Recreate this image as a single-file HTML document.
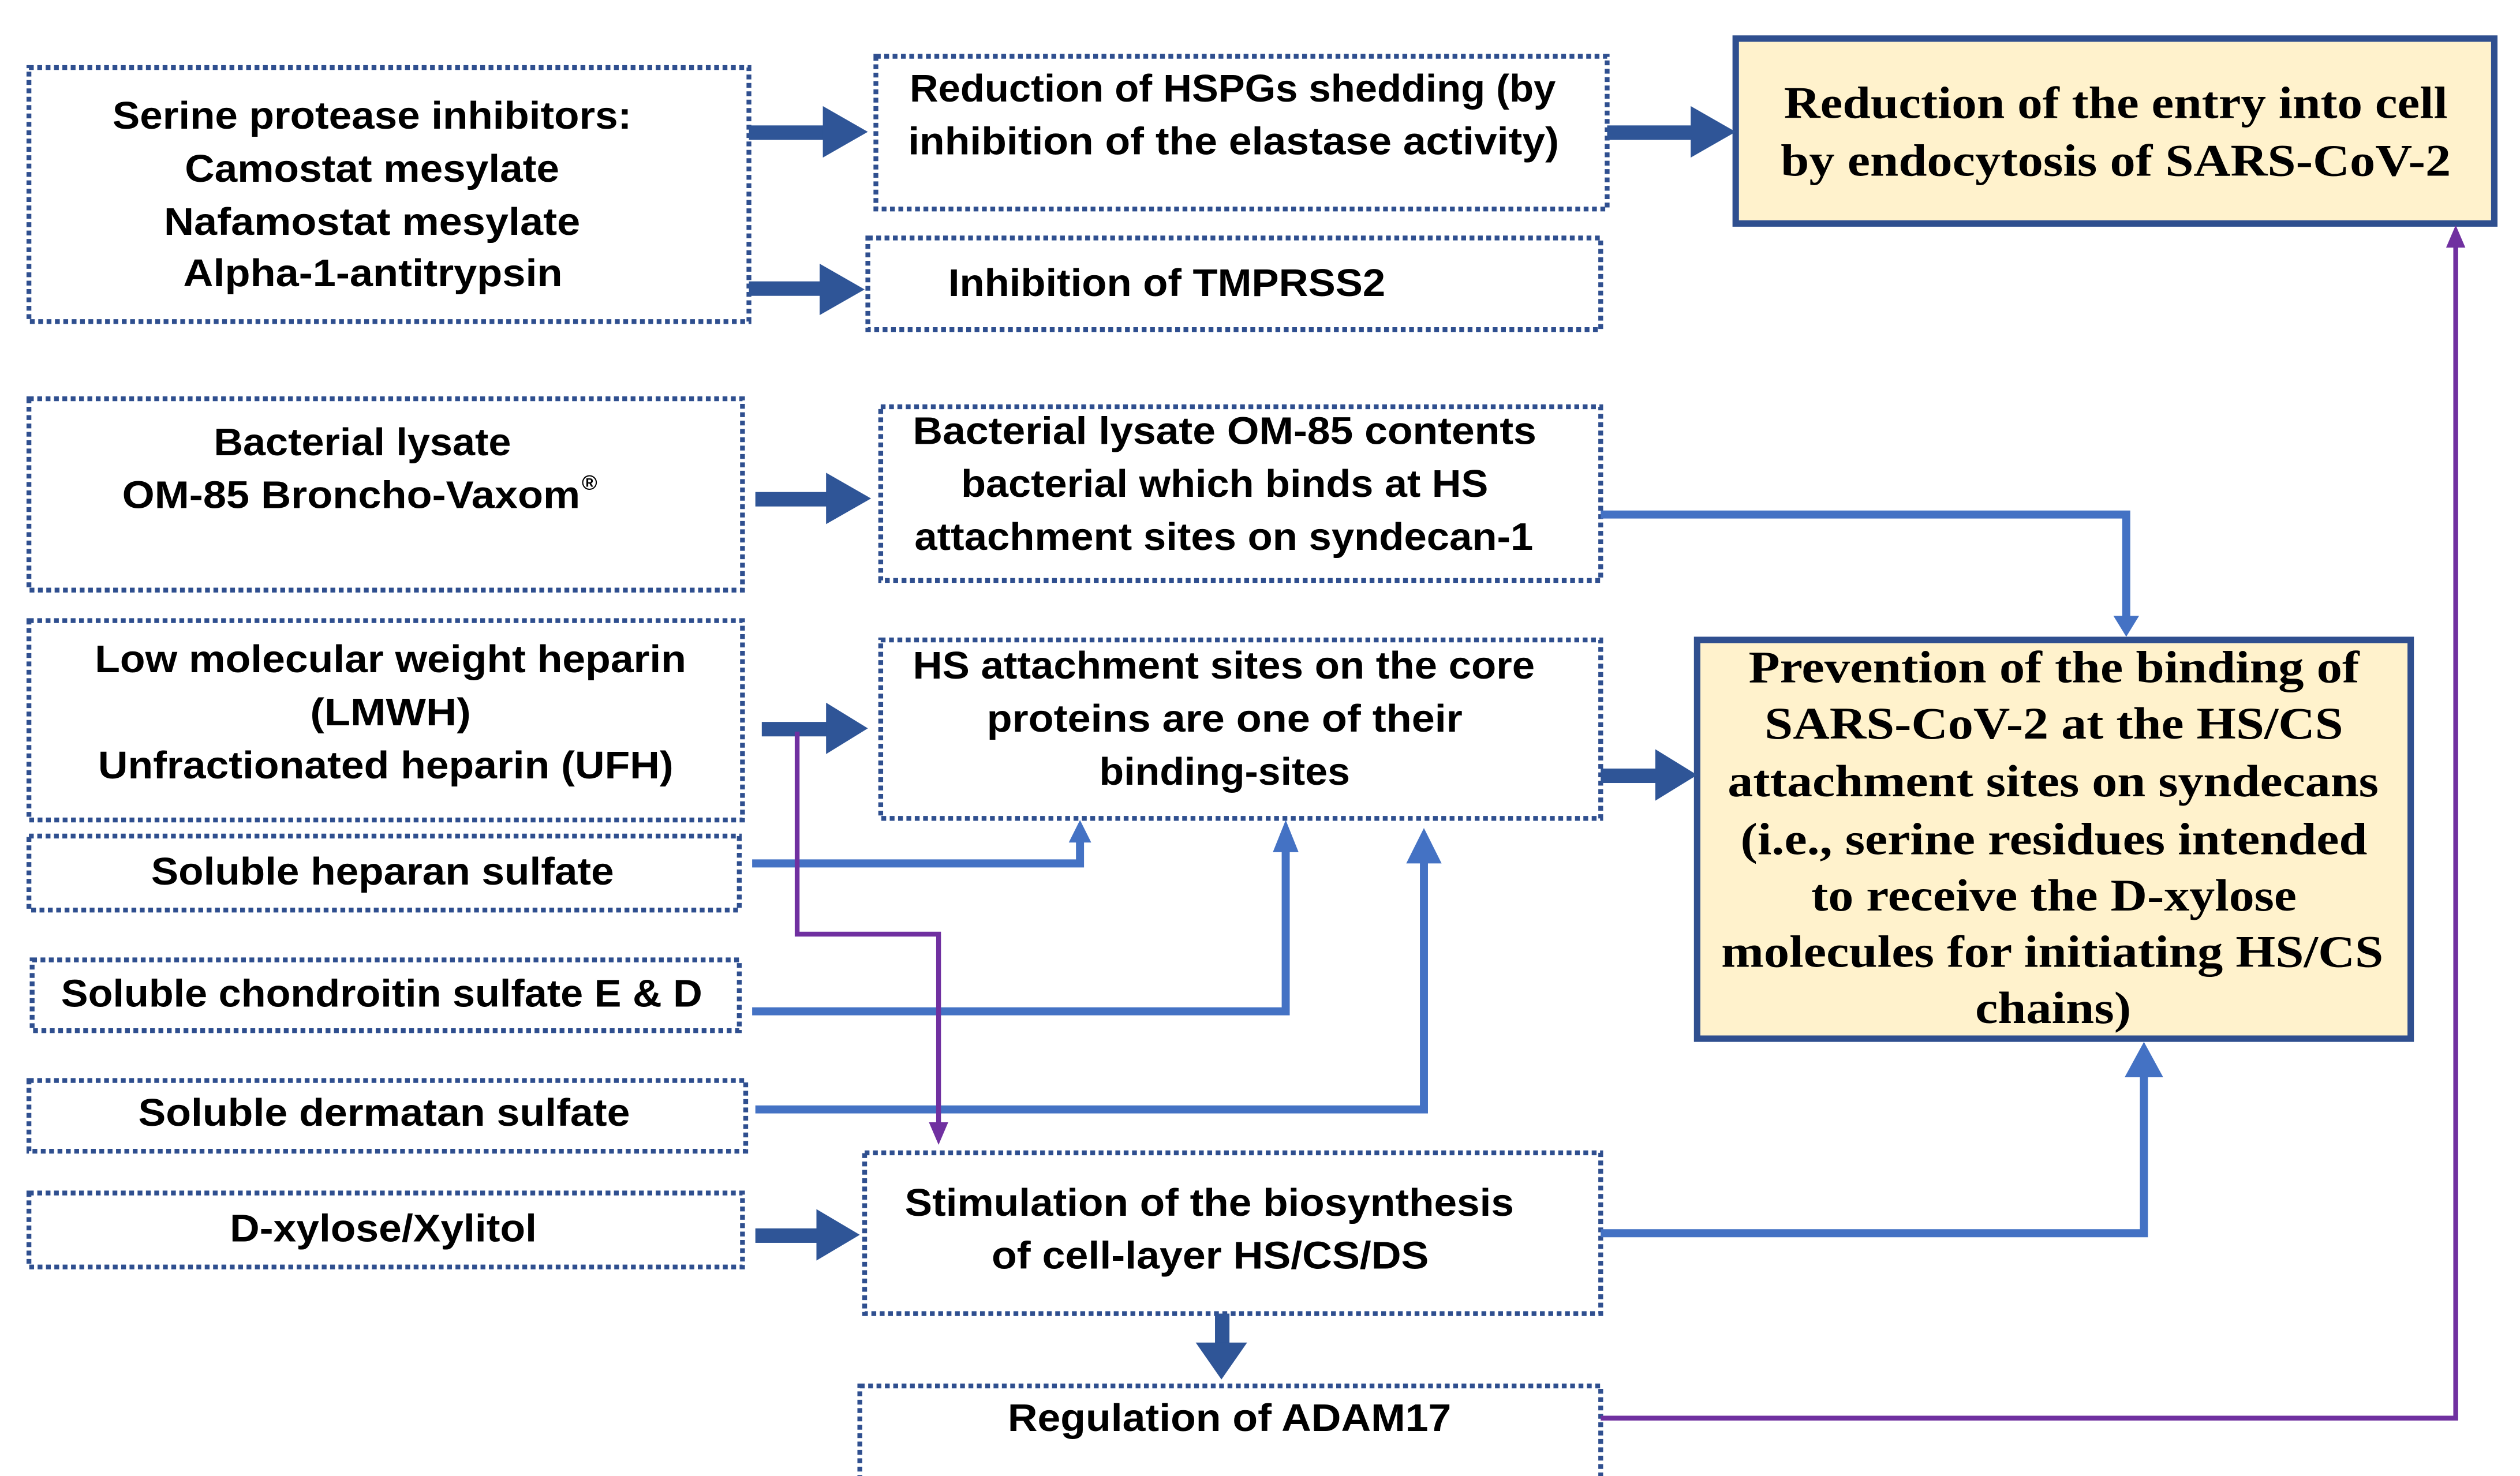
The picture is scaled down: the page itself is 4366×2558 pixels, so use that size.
<!DOCTYPE html>
<html><head><meta charset="utf-8"><style>
html,body{margin:0;padding:0;background:#fff;}
svg{display:block;}
.s{font-family:"Liberation Sans",sans-serif;font-weight:bold;font-size:24px;fill:#000;}
.r{font-family:"Liberation Serif",serif;font-weight:bold;font-size:28px;fill:#000;}
.d{fill:none;stroke:#2F4F8F;stroke-width:3;stroke-dasharray:3 2.2;}
.y{fill:#FFF2CC;stroke:#2F4F8F;stroke-width:4;}
.bl{fill:none;stroke:#4472C4;stroke-width:5;}
.pu{fill:none;stroke:#7030A0;stroke-width:3;}
</style></head><body>
<svg width="4366" height="2558" viewBox="0 0 1568 918" preserveAspectRatio="none" xmlns="http://www.w3.org/2000/svg">
<rect width="1568" height="918" fill="#fff"/>
<!-- boxes -->
<rect class="d" x="18" y="42" width="448" height="158"/>
<rect class="d" x="545" y="35" width="455" height="95"/>
<rect class="y" x="1080" y="24" width="472" height="115"/>
<rect class="d" x="540" y="148" width="456" height="57"/>
<rect class="d" x="18" y="248" width="444" height="119"/>
<rect class="d" x="548" y="253" width="448" height="108"/>
<rect class="d" x="18" y="386" width="444" height="124"/>
<rect class="d" x="548" y="398" width="448" height="111"/>
<rect class="y" x="1056" y="398" width="444" height="248"/>
<rect class="d" x="18" y="520" width="442" height="46"/>
<rect class="d" x="20" y="597" width="440" height="44"/>
<rect class="d" x="18" y="672" width="446" height="44"/>
<rect class="d" x="18" y="742" width="444" height="46"/>
<rect class="d" x="538" y="717" width="458" height="100"/>
<rect class="d" x="535" y="862" width="461" height="70"/>

<!-- thick arrows -->
<g fill="#2F5597">
<rect x="466" y="78" width="48" height="9"/><polygon points="512,66 540,82 512,98"/>
<rect x="466" y="175" width="48" height="9"/><polygon points="510,164 538,180 510,196"/>
<rect x="1000" y="78" width="54" height="9"/><polygon points="1052,66 1080,82 1052,98"/>
<rect x="470" y="306" width="47" height="9"/><polygon points="514,294 542,310 514,326"/>
<rect x="474" y="449" width="42" height="9"/><polygon points="514,437 540,453 514,469"/>
<rect x="996" y="478" width="36" height="9"/><polygon points="1030,466 1056,482 1030,498"/>
<rect x="470" y="764" width="40" height="9"/><polygon points="508,752 535,768 508,784"/>
<rect x="756" y="817" width="9" height="20"/><polygon points="744,835 776,835 760,858"/>
</g>

<!-- blue thin connectors -->
<polyline class="bl" points="996,320 1323,320 1323,385"/>
<polygon fill="#4472C4" points="1315,383 1331,383 1323,396"/>
<polyline class="bl" points="468,537 672,537 672,522"/>
<polygon fill="#4472C4" points="665,524 679,524 672,510"/>
<polyline class="bl" points="468,629 800,629 800,528"/>
<polygon fill="#4472C4" points="792,530 808,530 800,510"/>
<polyline class="bl" points="470,690 886,690 886,535"/>
<polygon fill="#4472C4" points="875,537 897,537 886,515"/>
<polyline class="bl" points="996,767 1334,767 1334,668"/>
<polygon fill="#4472C4" points="1322,670 1346,670 1334,648"/>

<!-- purple -->
<polyline class="pu" points="496,455 496,581 584,581 584,700"/>
<polygon fill="#7030A0" points="578,698 590,698 584,712"/>
<polyline class="pu" points="996,882 1528,882 1528,152"/>
<polygon fill="#7030A0" points="1522,154 1534,154 1528,140"/>

<!-- text -->
<g class="s" dominant-baseline="central">
<text x="70" y="72" textLength="323" lengthAdjust="spacingAndGlyphs">Serine protease inhibitors:</text>
<text x="115" y="105" textLength="233" lengthAdjust="spacingAndGlyphs">Camostat mesylate</text>
<text x="102" y="138" textLength="259" lengthAdjust="spacingAndGlyphs">Nafamostat mesylate</text>
<text x="114" y="170" textLength="236" lengthAdjust="spacingAndGlyphs">Alpha-1-antitrypsin</text>
<text x="566" y="55" textLength="402" lengthAdjust="spacingAndGlyphs">Reduction of HSPGs shedding (by</text>
<text x="565" y="88" textLength="405" lengthAdjust="spacingAndGlyphs">inhibition of the elastase activity)</text>
<text x="590" y="176" textLength="272" lengthAdjust="spacingAndGlyphs">Inhibition of TMPRSS2</text>
<text x="133" y="275" textLength="185" lengthAdjust="spacingAndGlyphs">Bacterial lysate</text>
<text x="76" y="308" textLength="285" lengthAdjust="spacingAndGlyphs">OM-85 Broncho-Vaxom</text>
<text x="362" y="300" style="font-size:13px">®</text>
<text x="568" y="268" textLength="388" lengthAdjust="spacingAndGlyphs">Bacterial lysate OM-85 contents</text>
<text x="598" y="301" textLength="328" lengthAdjust="spacingAndGlyphs">bacterial which binds at HS</text>
<text x="569" y="334" textLength="385" lengthAdjust="spacingAndGlyphs">attachment sites on syndecan-1</text>
<text x="59" y="410" textLength="368" lengthAdjust="spacingAndGlyphs">Low molecular weight heparin</text>
<text x="193" y="443" textLength="100" lengthAdjust="spacingAndGlyphs">(LMWH)</text>
<text x="61" y="476" textLength="358" lengthAdjust="spacingAndGlyphs">Unfractionated heparin (UFH)</text>
<text x="568" y="414" textLength="387" lengthAdjust="spacingAndGlyphs">HS attachment sites on the core</text>
<text x="614" y="447" textLength="296" lengthAdjust="spacingAndGlyphs">proteins are one of their</text>
<text x="684" y="480" textLength="156" lengthAdjust="spacingAndGlyphs">binding-sites</text>
<text x="94" y="542" textLength="288" lengthAdjust="spacingAndGlyphs">Soluble heparan sulfate</text>
<text x="38" y="618" textLength="399" lengthAdjust="spacingAndGlyphs">Soluble chondroitin sulfate E &amp; D</text>
<text x="86" y="692" textLength="306" lengthAdjust="spacingAndGlyphs">Soluble dermatan sulfate</text>
<text x="143" y="764" textLength="191" lengthAdjust="spacingAndGlyphs">D-xylose/Xylitol</text>
<text x="563" y="748" textLength="379" lengthAdjust="spacingAndGlyphs">Stimulation of the biosynthesis</text>
<text x="617" y="781" textLength="272" lengthAdjust="spacingAndGlyphs">of cell-layer  HS/CS/DS</text>
<text x="627" y="882" textLength="276" lengthAdjust="spacingAndGlyphs">Regulation of ADAM17</text>
</g>
<g class="r" dominant-baseline="central">
<text x="1110" y="64" textLength="413" lengthAdjust="spacingAndGlyphs">Reduction of the entry into cell</text>
<text x="1108" y="100" textLength="417" lengthAdjust="spacingAndGlyphs">by endocytosis of SARS-CoV-2</text>
<text x="1088" y="415" textLength="380" lengthAdjust="spacingAndGlyphs">Prevention of the binding of</text>
<text x="1098" y="450" textLength="360" lengthAdjust="spacingAndGlyphs">SARS-CoV-2  at the HS/CS</text>
<text x="1075" y="486" textLength="405" lengthAdjust="spacingAndGlyphs">attachment sites on syndecans</text>
<text x="1083" y="522" textLength="390" lengthAdjust="spacingAndGlyphs">(i.e., serine residues intended</text>
<text x="1127" y="557" textLength="302" lengthAdjust="spacingAndGlyphs">to receive  the D-xylose</text>
<text x="1071" y="592" textLength="412" lengthAdjust="spacingAndGlyphs">molecules  for initiating  HS/CS</text>
<text x="1229" y="627" textLength="97" lengthAdjust="spacingAndGlyphs">chains)</text>
</g>
</svg>
</body></html>
